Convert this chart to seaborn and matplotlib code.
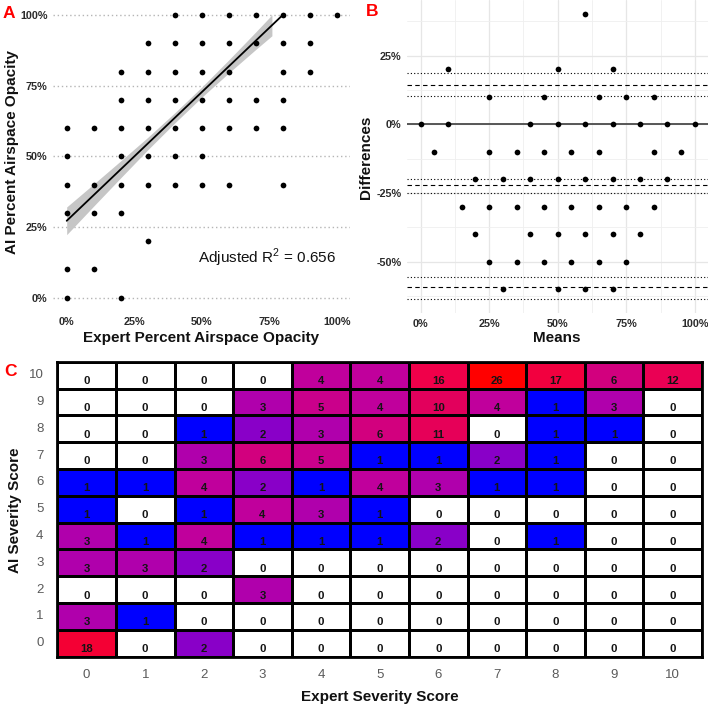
import numpy as np
import pandas as pd
import matplotlib
matplotlib.use("Agg")
import matplotlib.pyplot as plt
import seaborn as sns
from matplotlib.colors import LinearSegmentedColormap, LogNorm
from matplotlib.ticker import FuncFormatter

# ---- Panel A: expert vs AI percent airspace opacity (distinct points) ----
expert_pct = [40, 50, 60, 70, 80, 90, 100,
              30, 40, 50, 60, 70, 80, 90,
              20, 30, 40, 50, 60, 80, 90,
              20, 30, 40, 50, 60, 70, 80,
              0, 10, 20, 30, 40, 50, 60, 70, 80,
              0, 20, 30, 40, 50,
              0, 10, 20, 30, 40, 50, 60, 80,
              0, 10, 20,
              30,
              0, 10,
              0, 20]
ai_pct = ([100] * 7 + [90] * 7 + [80] * 7 + [70] * 7 + [60] * 9
          + [50] * 5 + [40] * 8 + [30] * 3 + [20] + [10] * 2 + [0] * 2)

# linear fit
fit_intercept = 27.2
fit_slope = 0.91
fit_x = [0, 80]
band_x = [0, 10, 20, 30, 40, 50, 60, 70, 76]
band_half = [4.9, 3.9, 3.0, 2.2, 1.8, 1.8, 2.3, 3.1, 3.7]
r2_text = "Adjusted R$^2$ = 0.656"

# ---- Panel B: Bland-Altman (means vs differences) ----
ba_means = ([60]
            + [10, 50, 70]
            + [25, 45, 65, 75, 85]
            + [0, 10, 40, 50, 60, 70, 80, 90, 100]
            + [5, 25, 35, 45, 55, 65, 85, 95]
            + [20, 30, 40, 50, 60, 70, 80, 90]
            + [15, 25, 35, 45, 55, 65, 75, 85]
            + [20, 40, 50, 60, 70, 80]
            + [25, 35, 45, 55, 65, 75]
            + [30, 50, 60, 70])
ba_diffs = ([40] + [20] * 3 + [10] * 5 + [0] * 9 + [-10] * 8 + [-20] * 8
            + [-30] * 8 + [-40] * 6 + [-50] * 6 + [-60] * 4)
ba_dashed = [14.4, -22.2, -59.3]
ba_dotted = [18.7, 10.4, -19.9, -24.9, -55.5, -63.5]

# ---- Panel C: severity score confusion counts (rows AI 10 -> 0, cols expert 0 -> 10) ----
severity = list(range(11))
counts = [
    [0, 0, 0, 0, 4, 4, 16, 26, 17, 6, 12],
    [0, 0, 0, 3, 5, 4, 10, 4, 1, 3, 0],
    [0, 0, 1, 2, 3, 6, 11, 0, 1, 1, 0],
    [0, 0, 3, 6, 5, 1, 1, 2, 1, 0, 0],
    [1, 1, 4, 2, 1, 4, 3, 1, 1, 0, 0],
    [1, 0, 1, 4, 3, 1, 0, 0, 0, 0, 0],
    [3, 1, 4, 1, 1, 1, 2, 0, 1, 0, 0],
    [3, 3, 2, 0, 0, 0, 0, 0, 0, 0, 0],
    [0, 0, 0, 3, 0, 0, 0, 0, 0, 0, 0],
    [3, 1, 0, 0, 0, 0, 0, 0, 0, 0, 0],
    [18, 0, 2, 0, 0, 0, 0, 0, 0, 0, 0],
]

sns.set_style("white")
plt.rcParams["font.family"] = ["Liberation Sans", "DejaVu Sans"]
plt.rcParams["mathtext.fontset"] = "custom"
plt.rcParams["mathtext.rm"] = "Liberation Sans"

fig = plt.figure(figsize=(7.08, 7.06), dpi=100)
W, H = 708, 706


def px_axes(left, top, right, bottom):
    return fig.add_axes([left / W, 1 - bottom / H, (right - left) / W, (bottom - top) / H])


pct_fmt = FuncFormatter(lambda v, _: f"{v:.0f}%")
tick_font = dict(fontsize=7.8, fontweight="bold", color="#2b2b2b")

# ---------------- Panel A ----------------
ax_a = px_axes(53.2, 0.9, 350.2, 311.8)
df_a = pd.DataFrame({"expert": expert_pct, "ai": ai_pct})
bx = np.array(band_x, dtype=float)
bfit = fit_intercept + fit_slope * bx
ax_a.fill_between(bx, bfit - np.array(band_half), bfit + np.array(band_half),
                  color="#c6c6c6", lw=0, zorder=1)
fx = np.array(fit_x, dtype=float)
ax_a.plot(fx, fit_intercept + fit_slope * fx, color="black", lw=1.3, zorder=2)
sns.scatterplot(data=df_a, x="expert", y="ai", ax=ax_a, color="black",
                s=17, linewidth=0, zorder=3)
ax_a.set_xlim(-5, 105)
ax_a.set_ylim(-5, 105)
ax_a.set_xticks([0, 25, 50, 75, 100])
ax_a.set_yticks([0, 25, 50, 75, 100])
ax_a.xaxis.set_major_formatter(pct_fmt)
ax_a.yaxis.set_major_formatter(pct_fmt)
ax_a.grid(axis="y", linestyle=(0, (1, 2)), color="#b5b5b5", lw=1.0)
ax_a.grid(axis="x", visible=False)
ax_a.set_axisbelow(True)
for s in ax_a.spines.values():
    s.set_visible(False)
ax_a.tick_params(length=0, pad=4)
for lab in ax_a.get_xticklabels() + ax_a.get_yticklabels():
    lab.set(**tick_font)
ax_a.set_xlabel("")
ax_a.set_ylabel("")
ax_a.text(74, 14, r2_text, ha="center", va="center", fontsize=11, color="#111111")

# ---------------- Panel B ----------------
ax_b = px_axes(406.9, 0.0, 708.0, 313.0)
df_b = pd.DataFrame({"means": ba_means, "diffs": ba_diffs})
ax_b.axhline(0, color="#4a4a4a", lw=1.3, zorder=2)
for yv in ba_dashed:
    ax_b.axhline(yv, color="black", lw=0.8, linestyle=(0, (4, 3)), zorder=2)
for yv in ba_dotted:
    ax_b.axhline(yv, color="black", lw=0.8, linestyle=(0, (1, 2)), zorder=2)
sns.scatterplot(data=df_b, x="means", y="diffs", ax=ax_b, color="black",
                s=17, linewidth=0, zorder=3)
ax_b.set_xlim(-5, 104.8)
ax_b.set_ylim(-68.7, 45.2)
ax_b.set_xticks([0, 25, 50, 75, 100])
ax_b.set_xticks([12.5, 37.5, 62.5, 87.5], minor=True)
ax_b.set_yticks([-50, -25, 0, 25])
ax_b.set_yticks([-62.5, -37.5, -12.5, 12.5, 37.5], minor=True)
ax_b.xaxis.set_major_formatter(pct_fmt)
ax_b.yaxis.set_major_formatter(pct_fmt)
ax_b.grid(which="major", color="#e6e6e6", lw=0.9)
ax_b.grid(which="minor", color="#efefef", lw=0.6)
ax_b.set_axisbelow(True)
for s in ax_b.spines.values():
    s.set_visible(False)
ax_b.tick_params(which="both", length=0, pad=4)
for lab in ax_b.get_xticklabels() + ax_b.get_yticklabels():
    lab.set(**tick_font)
ax_b.set_xlabel("")
ax_b.set_ylabel("")

# ---------------- Panel C ----------------
ax_c = px_axes(57.3, 361.7, 702.0, 656.7)
cmap = LinearSegmentedColormap.from_list("blue_red", [
    (0.0, "#0000ff"), (0.213, "#8a00c8"), (0.337, "#b000ac"), (0.425, "#c0009c"),
    (0.55, "#d2007e"), (0.707, "#e2005c"), (0.763, "#ea0054"), (0.851, "#f0004a"),
    (0.887, "#f40036"), (1.0, "#ff0000")])
cmap.set_bad("white")
cmap.set_under("white")
mat = pd.DataFrame(counts, index=severity[::-1], columns=severity)
sns.heatmap(mat, ax=ax_c, cmap=cmap, norm=LogNorm(vmin=1, vmax=26), cbar=False,
            linewidths=2, linecolor="black", annot=False)
for i, row in enumerate(counts):
    for j, v in enumerate(row):
        ax_c.text(j + 0.5, i + 0.72, str(v), ha="center", va="center",
                  fontsize=8.2, fontweight="bold", color="#141414")
for s in ax_c.spines.values():
    s.set_visible(True)
    s.set_color("black")
    s.set_linewidth(2)
ax_c.tick_params(length=0, labelsize=9.5, labelcolor="#5a5a5a")
ax_c.tick_params(axis="x", pad=9)
ax_c.tick_params(axis="y", pad=10)
ax_c.set_yticklabels(ax_c.get_yticklabels(), rotation=0)
ax_c.set_xlabel("")
ax_c.set_ylabel("")

# axis titles
title_kw = dict(fontsize=11, fontweight="bold", color="#111111", ha="center", va="center")
fig.text(12 / W, 1 - 152 / H, "AI Percent Airspace Opacity", rotation=90, **title_kw)
fig.text(201 / W, 1 - 338 / H, "Expert Percent Airspace Opacity", **title_kw)
fig.text(366 / W, 1 - 157 / H, "Differences", rotation=90, **title_kw)
fig.text(557 / W, 1 - 338 / H, "Means", **title_kw)
fig.text(15 / W, 1 - 510 / H, "AI Severity Score", rotation=90, **title_kw)
fig.text(380 / W, 1 - 697 / H, "Expert Severity Score", **title_kw)

# panel letters
letter_kw = dict(fontsize=12.5, fontweight="bold", color="#ff0000", ha="center", va="center")
fig.text(8.5 / W, 1 - 14 / H, "A", **letter_kw)
fig.text(372.5 / W, 1 - 11.5 / H, "B", **letter_kw)
fig.text(10.5 / W, 1 - 372 / H, "C", **letter_kw)

fig.savefig("out.png", dpi=100)
plt.close(fig)
